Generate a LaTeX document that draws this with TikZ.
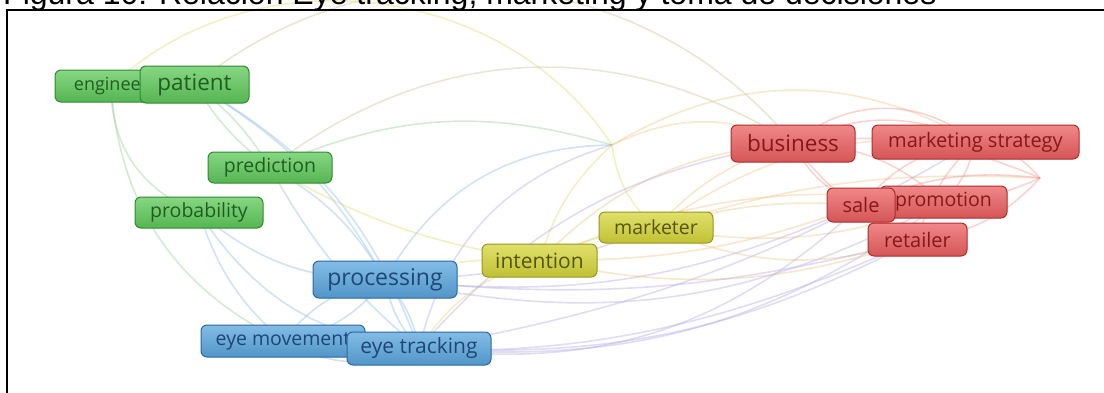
\documentclass[tikz,border=0pt]{standalone}
\usepackage{fontspec}
\setmainfont{Open Sans}
\newfontfamily\titlefont{Liberation Sans}
\usetikzlibrary{backgrounds}

\definecolor{grnfill}{HTML}{5FC95A}
\definecolor{grndraw}{HTML}{2F8A2F}
\definecolor{grntext}{HTML}{1E5E1E}
\definecolor{blufill}{HTML}{5AA6DE}
\definecolor{bludraw}{HTML}{2A67A0}
\definecolor{blutext}{HTML}{1C4777}
\definecolor{yelfill}{HTML}{D6D63A}
\definecolor{yeldraw}{HTML}{97971C}
\definecolor{yeltext}{HTML}{55550E}
\definecolor{redfill}{HTML}{EC5F5F}
\definecolor{reddraw}{HTML}{AE2B2B}
\definecolor{redtext}{HTML}{871818}
\definecolor{lg}{HTML}{8CCB8C}
\definecolor{lb}{HTML}{86B4E2}
\definecolor{ly}{HTML}{D8D860}
\definecolor{lr}{HTML}{F08C8C}
\definecolor{lp}{HTML}{B0A4E2}
\definecolor{lo}{HTML}{EBC07A}
\definecolor{lt}{HTML}{C9BE8C}

\newcommand{\fsz}[1]{\fontsize{#1}{#1}\selectfont}

\begin{document}
\begin{tikzpicture}[x=1pt, y=-1pt]
  % Define styles
  \tikzstyle{term} = [rectangle, rounded corners=6pt, line width=1pt, inner sep=0pt, text centered]
  \tikzstyle{grn} = [term, draw=grndraw, top color=grnfill!75!white, bottom color=grnfill!90!black, text=grntext]
  \tikzstyle{blu} = [term, draw=bludraw, top color=blufill!75!white, bottom color=blufill!90!black, text=blutext]
  \tikzstyle{yel} = [term, draw=yeldraw, top color=yelfill!75!white, bottom color=yelfill!90!black, text=yeltext]
  \tikzstyle{red} = [term, draw=reddraw, top color=redfill!75!white, bottom color=redfill!90!black, text=redtext]
  \tikzstyle{link} = [line width=1.6pt, opacity=0.38]

  \useasboundingbox (0,0) rectangle (1104,392);
  \clip (0,0) rectangle (1104,392);

  % Title and frame
  \node[anchor=base west, inner sep=0pt, font=\titlefont\fsz{32}] (title) at (3,4) {Figura 10: Relación Eye tracking, marketing y toma de decisiones};
  \draw[line width=2pt] (7,9.5) rectangle (1130,420);

  % Nodes
  \node[grn, minimum width=112pt, minimum height=32pt, font=\fsz{18}] (engineer) at (111,86) {engineer};
  \node[grn, minimum width=109pt, minimum height=37pt, font=\fsz{22.5}] (patient) at (194.5,84.5) {patient};
  \node[grn, minimum width=124pt, minimum height=31pt, font=\fsz{19.5}] (prediction) at (270,167.5) {prediction};
  \node[grn, minimum width=128pt, minimum height=31pt, font=\fsz{19.5}] (probability) at (199,212.5) {probability};
  \node[blu, minimum width=144pt, minimum height=37pt, font=\fsz{23}] (processing) at (385,279.5) {processing};
  \node[blu, minimum width=164pt, minimum height=32pt, font=\fsz{19.5}] (eyemove) at (283,341) {eye movement};
  \node[blu, minimum width=144pt, minimum height=33pt, font=\fsz{21}] (eyetrack) at (419,348.5) {eye tracking};
  \node[yel, minimum width=115pt, minimum height=33pt, font=\fsz{21}] (intention) at (539.5,260.5) {intention};
  \node[yel, minimum width=114pt, minimum height=31pt, font=\fsz{19.5}] (marketer) at (656,227.5) {marketer};
  \node[red, minimum width=124pt, minimum height=37pt, font=\fsz{22.5}] (business) at (793,143.5) {business};
  \node[red, minimum width=207pt, minimum height=34pt, font=\fsz{20}] (strategy) at (975.5,142) {marketing strategy};
  \node[red, minimum width=127pt, minimum height=32pt, font=\fsz{19.5}] (promotion) at (943.5,202) {promotion};
  \node[red, minimum width=68pt, minimum height=34pt, font=\fsz{20}] (sale) at (861,205) {sale};
  \node[red, minimum width=99pt, minimum height=33pt, font=\fsz{20}] (retailer) at (917.5,239.5) {retailer};
  \coordinate (hub) at (612,145);
  \coordinate (rhub) at (1040,178);

  % Links
  \begin{scope}[on background layer]
    \draw[link, lg] (engineer.center) to[bend right=35] (probability.center);
    \draw[link, lg] (engineer.center) to[bend right=30] (eyemove.center);
    \draw[link, lg] (patient.center) to[bend left=10] (prediction.center);
    \draw[link, lg] (patient.center) to[bend right=10] (prediction.center);
    \draw[link, lb] (patient.center) to[bend left=15] (processing.center);
    \draw[link, lb] (patient.center) to[bend left=20] (eyetrack.center);
    \draw[link, lt] (patient.center) to[bend left=45] (business.center);
    \draw[link, ly] (engineer.center) to[bend left=50] (hub);
    \draw[link, lt] (prediction.center) to[bend left=35] (business.center);
    \draw[link, lg] (prediction.center) to[bend left=20] (hub);
    \draw[link, lb] (prediction.center) to[bend left=15] (processing.center);
    \draw[link, lb] (prediction.center) to[bend right=10] (eyetrack.center);
    \draw[link, ly] (prediction.center) to[bend right=10] (intention.center);
    \draw[link, lb] (probability.center) to[bend right=20] (processing.center);
    \draw[link, lb] (probability.center) to[bend right=25] (eyetrack.center);
    \draw[link, lb] (probability.center) to[bend right=15] (eyemove.center);
    \draw[link, lb] (processing.center) to[bend left=20] (eyemove.center);
    \draw[link, lb] (processing.center) to[bend right=20] (eyemove.center);
    \draw[link, lb] (processing.center) to[bend left=15] (eyetrack.center);
    \draw[link, lb] (processing.center) to[bend right=15] (eyetrack.center);
    \draw[link, lb] (eyemove.center) to[bend right=25] (eyetrack.center);
    \draw[link, lb] (processing.center) to[bend left=30] (hub);
    \draw[link, lp] (eyetrack.center) to[bend left=30] (hub);
    \draw[link, ly] (processing.center) to[bend left=10] (intention.center);
    \draw[link, lp] (processing.center) to[bend right=10] (marketer.center);
    \draw[link, lp] (processing.center) to[bend right=15] (sale.center);
    \draw[link, lp] (processing.center) to[bend right=20] (promotion.center);
    \draw[link, lp] (eyetrack.center) to[bend right=15] (retailer.center);
    \draw[link, lp] (eyetrack.center) to[bend right=20] (promotion.center);
    \draw[link, lp] (eyemove.center) to[bend right=15] (retailer.center);
    \draw[link, lp] (eyetrack.center) to[bend right=10] (strategy.center);
    \draw[link, ly] (intention.center) to[bend right=20] (eyetrack.center);
    \draw[link, ly] (hub) to[bend right=20] (marketer.center);
    \draw[link, ly] (hub) to[bend right=15] (intention.center);
    \draw[link, lo] (hub) to[bend left=25] (business.center);
    \draw[link, lo] (hub) to[bend left=30] (strategy.center);
    \draw[link, ly] (intention.center) to[bend left=10] (marketer.center);
    \draw[link, lo] (intention.center) to[bend left=20] (business.center);
    \draw[link, lo] (intention.center) to[bend right=10] (sale.center);
    \draw[link, lo] (intention.center) to[bend right=15] (retailer.center);
    \draw[link, lo] (intention.center) to[bend left=15] (promotion.center);
    \draw[link, lo] (marketer.center) to[bend left=15] (business.center);
    \draw[link, lo] (marketer.center) to[bend left=10] (sale.center);
    \draw[link, lo] (marketer.center) to[bend right=15] (promotion.center);
    \draw[link, lo] (marketer.center) to[bend right=20] (retailer.center);
    \draw[link, lo] (marketer.center) to[bend left=20] (strategy.center);
    \draw[link, lo] (marketer.center) to[bend left=10] (rhub);
    \draw[link, lr] (business.center) to[bend left=40] (strategy.center);
    \draw[link, lr] (business.center) to[bend left=25] (strategy.center);
    \draw[link, lr] (business.center) to[bend right=20] (sale.center);
    \draw[link, lr] (business.center) to[bend left=20] (promotion.center);
    \draw[link, lr] (business.center) to[bend right=15] (retailer.center);
    \draw[link, lr] (business.center) to[bend left=15] (rhub);
    \draw[link, lr] (strategy.center) to[bend right=20] (sale.center);
    \draw[link, lr] (strategy.center) to[bend left=15] (promotion.center);
    \draw[link, lr] (strategy.center) to[bend right=15] (retailer.center);
    \draw[link, lr] (strategy.center) to[bend left=20] (rhub);
    \draw[link, lr] (sale.center) to[bend left=15] (rhub);
    \draw[link, lr] (promotion.center) to[bend right=10] (rhub);
    \draw[link, lr] (retailer.center) to[bend right=20] (rhub);
    \draw[link, lr] (sale.center) to[bend right=30] (retailer.center);
    \draw[link, lp] (business.center) to[bend right=20] (eyetrack.center);
    \draw[link, lp] (retailer.center) to[bend left=10] (processing.center);
    \draw[link, lp] (sale.center) to[bend left=25] (eyetrack.center);
  \end{scope}
\end{tikzpicture}
\end{document}
